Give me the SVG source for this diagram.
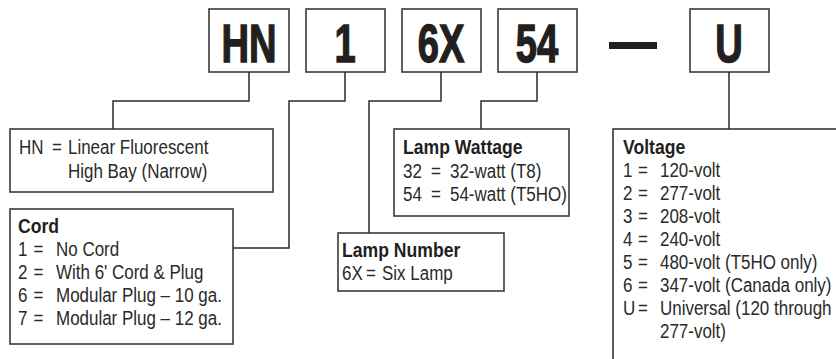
<svg xmlns="http://www.w3.org/2000/svg" width="836" height="359" viewBox="0 0 836 359">
<style>
.box{fill:#fff;stroke:#3a3a3a;stroke-width:1.6}
.ln{fill:none;stroke:#2a2a2a;stroke-width:1.5}
.big{font-family:"Liberation Sans",Arial,sans-serif;font-weight:bold;font-size:53px;fill:#231f20;stroke:#231f20;stroke-width:1.4;text-anchor:middle}
.t{font-family:"Liberation Sans",Arial,sans-serif;font-size:19.5px;fill:#2a2a2a}
.h{font-family:"Liberation Sans",Arial,sans-serif;font-size:20px;font-weight:bold;fill:#231f20}
</style>
<rect width="836" height="359" fill="#fff"/>
<g id="code-HN"><rect class="box" x="209" y="9" width="80" height="63"/><text class="big" transform="translate(249,62) scale(0.72,1)">HN</text></g>
<g id="code-1"><rect class="box" x="306" y="9" width="79" height="63"/><text class="big" transform="translate(345,62) scale(0.72,1)">1</text></g>
<g id="code-6X"><rect class="box" x="402" y="9" width="79" height="63"/><text class="big" transform="translate(441,62) scale(0.72,1)">6X</text></g>
<g id="code-54"><rect class="box" x="498" y="9" width="79" height="63"/><text class="big" transform="translate(537,62) scale(0.72,1)">54</text></g>
<g id="dash"><rect x="609" y="42" width="48" height="7" fill="#231f20"/></g>
<g id="code-U"><rect class="box" x="690" y="9" width="79" height="63"/><text class="big" transform="translate(729,62) scale(0.72,1)">U</text></g>
<g id="connectors">
<polyline class="ln" points="249,72 249,101 113,101 113,129"/>
<polyline class="ln" points="345,72 345,101 289,101 289,248 233,248"/>
<polyline class="ln" points="441,72 441,101 369,101 369,233"/>
<polyline class="ln" points="537,72 537,101 481,101 481,129"/>
<polyline class="ln" points="729,72 729,129"/>
</g>
<g id="desc-HN"><rect class="box" x="10" y="129" width="263" height="63"/>
<text class="t" transform="translate(19,0) scale(0.87,1)"><tspan x="0" y="154">HN</tspan><tspan x="37.9" y="154">=</tspan><tspan x="56.3" y="154">Linear Fluorescent</tspan><tspan x="56.3" y="178">High Bay (Narrow)</tspan></text></g>
<g id="desc-cord"><rect class="box" x="10" y="209" width="223" height="135"/>
<text class="h" transform="translate(18,0) scale(0.88,1)" x="0" y="233">Cord</text>
<text class="t" transform="translate(18,0) scale(0.87,1)"><tspan x="0" y="256">1</tspan><tspan x="17.8" y="256">=</tspan><tspan x="43.7" y="256">No Cord</tspan>
<tspan x="0" y="279">2</tspan><tspan x="17.8" y="279">=</tspan><tspan x="43.7" y="279">With 6' Cord &amp; Plug</tspan>
<tspan x="0" y="302">6</tspan><tspan x="17.8" y="302">=</tspan><tspan x="43.7" y="302">Modular Plug – 10 ga.</tspan>
<tspan x="0" y="325">7</tspan><tspan x="17.8" y="325">=</tspan><tspan x="43.7" y="325">Modular Plug – 12 ga.</tspan></text></g>
<g id="desc-wattage"><rect class="box" x="394" y="129" width="175" height="87"/>
<text class="h" transform="translate(403,0) scale(0.88,1)" x="0" y="154">Lamp Wattage</text>
<text class="t" transform="translate(403,0) scale(0.87,1)"><tspan x="0" y="178">32</tspan><tspan x="32.2" y="178">=</tspan><tspan x="54" y="178">32-watt (T8)</tspan>
<tspan x="0" y="201">54</tspan><tspan x="32.2" y="201">=</tspan><tspan x="54" y="201">54-watt (T5HO)</tspan></text></g>
<g id="desc-lampnumber"><rect class="box" x="338" y="233" width="166" height="58"/>
<text class="h" transform="translate(342,0) scale(0.88,1)" x="0" y="257">Lamp Number</text>
<text class="t" transform="translate(342,0) scale(0.87,1)"><tspan x="0" y="280">6X</tspan><tspan x="27.6" y="280">=</tspan><tspan x="46" y="280">Six Lamp</tspan></text></g>
<g id="desc-voltage"><polyline class="ln" points="613,360 613,129 837,129"/>
<text class="h" transform="translate(623,0) scale(0.88,1)" x="0" y="154">Voltage</text>
<text class="t" transform="translate(623,0) scale(0.87,1)"><tspan x="0" y="177">1</tspan><tspan x="17.2" y="177">=</tspan><tspan x="42.5" y="177">120-volt</tspan>
<tspan x="0" y="200">2</tspan><tspan x="17.2" y="200">=</tspan><tspan x="42.5" y="200">277-volt</tspan>
<tspan x="0" y="223">3</tspan><tspan x="17.2" y="223">=</tspan><tspan x="42.5" y="223">208-volt</tspan>
<tspan x="0" y="246">4</tspan><tspan x="17.2" y="246">=</tspan><tspan x="42.5" y="246">240-volt</tspan>
<tspan x="0" y="269">5</tspan><tspan x="17.2" y="269">=</tspan><tspan x="42.5" y="269">480-volt (T5HO only)</tspan>
<tspan x="0" y="292">6</tspan><tspan x="17.2" y="292">=</tspan><tspan x="42.5" y="292">347-volt (Canada only)</tspan>
<tspan x="0" y="315">U</tspan><tspan x="17.2" y="315">=</tspan><tspan x="42.5" y="315">Universal (120 through</tspan>
<tspan x="42.5" y="338">277-volt)</tspan></text></g>
</svg>
